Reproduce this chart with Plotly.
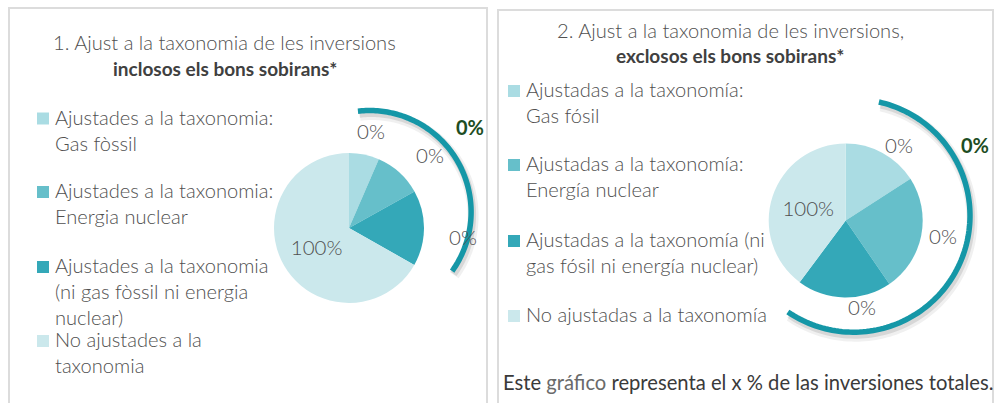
import plotly.graph_objects as go
import numpy as np

# ---------------- data ----------------
legend_ca = ["Ajustades a la taxonomia:\nGas fòssil",
             "Ajustades a la taxonomia:\nEnergia nuclear",
             "Ajustades a la taxonomia\n(ni gas fòssil ni energia\nnuclear)",
             "No ajustades a la\ntaxonomia"]
legend_es = ["Ajustadas a la taxonomía:\nGas fósil",
             "Ajustadas a la taxonomía:\nEnergía nuclear",
             "Ajustadas a la taxonomía (ni\ngas fósil ni energía nuclear)",
             "No ajustadas a la taxonomía"]
values_incl = [6.5, 10.4, 16.3, 66.8]      # slice shares as drawn (pie 1)
values_excl = [15.9, 24.5, 19.8, 39.8]     # slice shares as drawn (pie 2)
slice_text = ["0%", "0%", "0%", "100%"]
aligned_total_incl = "0%"
aligned_total_excl = "0%"
title1 = ["1. Ajust a la taxonomia de les inversions", "inclosos els bons sobirans*"]
title2 = ["2. Ajust a la taxonomia de les inversions,", "exclosos els bons sobirans*"]
footnote = ["Este", " gráfico", " representa el x % de las inversiones totales."]

slice_colors = ["#AADCE3", "#66BFCA", "#34A8B8", "#CBE8EC"]

# ---------------- layout helpers (page pixels -> paper) ----------------
W, H = 995, 403
def px(x): return x / W
def py(y): return 1 - y / H

FONT = "Lato"
LIGHT = 300
GRAY = "#505050"
TEAL = "#1597A7"
GREEN = "#1D4D23"

fig = go.Figure()

def add_pie(values, names, cx, cy, r):
    fig.add_trace(go.Pie(
        values=values,
        labels=[c.replace("\n", " ") for c in names],
        text=slice_text,
        textinfo="text",
        textposition=["none", "none", "none", "inside"],
        insidetextorientation="horizontal",
        textfont=dict(family=FONT, size=20.5, color=GRAY, weight=LIGHT),
        marker=dict(colors=slice_colors, line=dict(width=0)),
        sort=False, direction="clockwise", rotation=0,
        showlegend=False, hoverinfo="label",
        domain=dict(x=[px(cx - r), px(cx + r)], y=[py(cy + r), py(cy - r)]),
    ))

add_pie(values_incl, legend_ca, 349, 228, 75)
add_pie(values_excl, legend_es, 845.7, 220.5, 77)

shapes = []
annotations = []

# panel borders
for x0, x1, y0 in [(9, 487, 8), (498, 993, 10)]:
    shapes.append(dict(type="rect", xref="paper", yref="paper",
                       x0=px(x0), x1=px(x1), y0=py(y0), y1=py(430),
                       line=dict(color="#DCDCDC", width=2), layer="below"))

# decorative arcs with soft shadow
def arc_path(cx, cy, r, a0, a1, dx=0, dy=0):
    t = np.radians(np.linspace(a0, a1, 120))
    xs = cx + r * np.cos(t) + dx
    ys = cy - r * np.sin(t) + dy
    return "M " + " L ".join(f"{px(x):.5f},{py(y):.5f}" for x, y in zip(xs, ys))

for (cx, cy, r, a0, a1) in [(369.6, 212.0, 101.5, 96.6, -35.6),
                            (853.5, 215.7, 116.5, 77.4, -124.3)]:
    shapes.append(dict(type="path", xref="paper", yref="paper",
                       path=arc_path(cx, cy, r, a0, a1, 2, 4),
                       line=dict(color="rgba(0,0,0,0.06)", width=11)))
    shapes.append(dict(type="path", xref="paper", yref="paper",
                       path=arc_path(cx, cy, r, a0, a1, 1.5, 3),
                       line=dict(color="rgba(0,0,0,0.10)", width=7)))
    shapes.append(dict(type="path", xref="paper", yref="paper",
                       path=arc_path(cx, cy, r, a0, a1),
                       line=dict(color=TEAL, width=5.5)))

# outside data labels of the three small slices
label_pos = {0: [(371, 131), (430, 155), (463, 237)],
             1: [(899, 145), (943, 236), (862, 307)]}
for k in (0, 1):
    for txt, (x, y) in zip(slice_text[:3], label_pos[k]):
        annotations.append(dict(text=txt, x=px(x), y=py(y), xref="paper", yref="paper",
                                showarrow=False, xanchor="center", yanchor="middle",
                                font=dict(family=FONT, size=20.5, color=GRAY, weight=LIGHT)))

# totals next to arcs
for txt, x, y in [(aligned_total_incl, 470, 127), (aligned_total_excl, 975, 145)]:
    annotations.append(dict(text=f"<b>{txt}</b>", x=px(x), y=py(y), xref="paper", yref="paper",
                            showarrow=False, xanchor="center", yanchor="middle",
                            font=dict(family=FONT, size=20, color=GREEN)))

# titles
for (l1, l2), cx, y1, y2 in [(title1, 224.5, 42, 69), (title2, 730, 30, 56)]:
    annotations.append(dict(text=l1, x=px(cx), y=py(y1), xref="paper", yref="paper",
                            showarrow=False, xanchor="center", yanchor="middle",
                            font=dict(family=FONT, size=20.1, color=GRAY, weight=LIGHT)))
    annotations.append(dict(text=f"<b>{l2}</b>", x=px(cx), y=py(y2), xref="paper", yref="paper",
                            showarrow=False, xanchor="center", yanchor="middle",
                            font=dict(family=FONT, size=19, color="#404040")))

# legends (square + text lines)
def add_legend(items, sq_x, text_x, item_ys, line_gap):
    for item, color, y0 in zip(items, slice_colors, item_ys):
        shapes.append(dict(type="rect", xref="paper", yref="paper",
                           x0=px(sq_x), x1=px(sq_x + 12), y0=py(y0 + 6), y1=py(y0 - 6),
                           fillcolor=color, line=dict(width=0)))
        for j, line in enumerate(item.split("\n")):
            annotations.append(dict(text=line, x=px(text_x), y=py(y0 - 2 + j * line_gap),
                                    xref="paper", yref="paper", showarrow=False,
                                    xanchor="left", yanchor="middle",
                                    font=dict(family=FONT, size=20.1, color=GRAY, weight=LIGHT)))

add_legend(legend_ca, 37, 53, [118.5, 192, 267, 341], 26)
add_legend(legend_es, 508, 524, [91, 165, 241, 316], 26)

# footnote
annotations.append(dict(
    text=(f'<span style="color:#3A3A3A">{footnote[0]}</span>'
          f'<span style="color:#6A6A6A">{footnote[1]}</span>'
          f'<span style="color:#3A3A3A">{footnote[2]}</span>'),
    x=px(501), y=py(382), xref="paper", yref="paper", showarrow=False,
    xanchor="left", yanchor="middle", font=dict(family=FONT, size=20.2)))

fig.update_layout(width=W, height=H, margin=dict(l=0, r=0, t=0, b=0),
                  paper_bgcolor="white", plot_bgcolor="white",
                  shapes=shapes, annotations=annotations, showlegend=False)

fig.write_html("out.html", config={"displayModeBar": False},
               post_script="document.body.style.margin='0';"
                           "document.body.style.overflow='hidden';")
